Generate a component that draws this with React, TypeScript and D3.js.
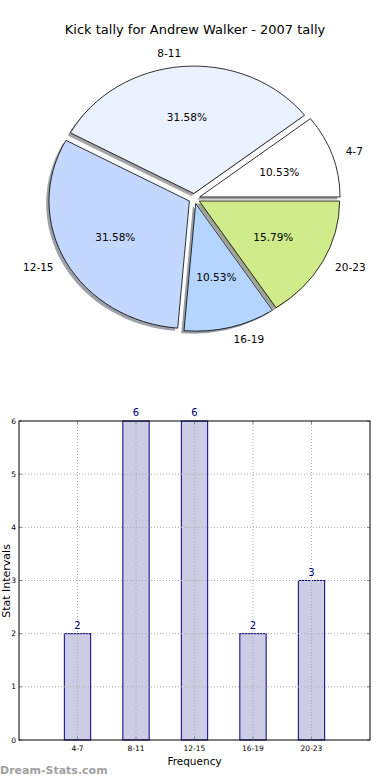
import React from 'react';
import * as d3 from 'd3';

const categories = ['4-7', '8-11', '12-15', '16-19', '20-23'];
const values = [2, 6, 6, 2, 3];
const sliceColors = ['#ffffff', '#eaf1ff', '#c4d8ff', '#b3d5ff', '#cfeb8a'];
const yTicks = [0, 1, 2, 3, 4, 5, 6];
const title = 'Kick tally for Andrew Walker - 2007 tally';

const FONT = '"DejaVu Sans", sans-serif';

export default function App() {
  const W = 390;
  const H = 780;
  // pie geometry (elliptical, as in the reference)
  const cx = 194.3;
  const cy = 198.6;
  const rx = 140.4;
  const ry = 127.5;
  const explode = 0.04;
  const total = d3.sum(values);

  const pie = d3
    .pie<number>()
    .sort(null)
    .startAngle(Math.PI / 2)
    .endAngle(Math.PI / 2 - 2 * Math.PI);
  const arcs = pie(values);
  const arcGen = d3.arc<d3.PieArcDatum<number>>().innerRadius(0).outerRadius(1);

  const slices = arcs.map((a, i) => {
    const mid = (a.startAngle + a.endAngle) / 2;
    const ux = Math.sin(mid);
    const uy = -Math.cos(mid);
    const ox = cx + explode * rx * ux;
    const oy = cy + explode * ry * uy;
    const c = d3.rgb(sliceColors[i]);
    const shadow = d3.rgb(c.r * 0.3, c.g * 0.3, c.b * 0.3).toString();
    return { a, i, ux, uy, ox, oy, shadow };
  });

  // bar chart
  const left = 19;
  const right = 370;
  const top = 421;
  const bottom = 740;
  const xs = d3.scaleLinear().domain([0, 6]).range([left, right]);
  const ys = d3.scaleLinear().domain([0, 6]).range([bottom, top]);
  const barW = 0.45;

  return (
    <svg
      width={W}
      height={H}
      style={{ position: 'absolute', left: 0, top: 0, background: '#fff' }}
      fontFamily={FONT}
    >
      <rect x={0} y={0} width={W} height={H} fill="#fff" />
      <text x={195} y={34} textAnchor="middle" fontSize={13} fill="#000">
        {title}
      </text>

      {/* shadows */}
      {slices.map((s) => (
        <g
          key={'sh' + s.i}
          transform={`translate(${s.ox - 0.02 * rx},${s.oy + 0.02 * ry}) scale(${rx},${ry})`}
        >
          <path d={arcGen(s.a) || ''} fill={s.shadow} fillOpacity={0.5} stroke="none" />
        </g>
      ))}
      {/* slices */}
      {slices.map((s) => (
        <g key={'sl' + s.i} transform={`translate(${s.ox},${s.oy}) scale(${rx},${ry})`}>
          <path
            d={arcGen(s.a) || ''}
            fill={sliceColors[s.i]}
            stroke="#000"
            strokeWidth={0.8}
            vectorEffect="non-scaling-stroke"
            strokeLinejoin="miter"
          />
        </g>
      ))}
      {/* percentage labels */}
      {slices.map((s) => (
        <text
          key={'pc' + s.i}
          x={s.ox + 0.6 * rx * s.ux}
          y={s.oy + 0.6 * ry * s.uy}
          dy="0.35em"
          textAnchor="middle"
          fontSize={10.5}
          fill="#000"
        >
          {((values[s.i] / total) * 100).toFixed(2) + '%'}
        </text>
      ))}
      {/* category labels */}
      {slices.map((s) => (
        <text
          key={'lb' + s.i}
          x={s.ox + 1.1 * rx * s.ux}
          y={s.oy + 1.1 * ry * s.uy}
          dy="0.35em"
          textAnchor={s.ux > 0 ? 'start' : 'end'}
          fontSize={10.5}
          fill="#000"
        >
          {categories[s.i]}
        </text>
      ))}

      {/* bars */}
      {values.map((v, i) => (
        <rect
          key={'bar' + i}
          x={xs(i + 1 - barW / 2)}
          y={ys(v)}
          width={xs(barW) - xs(0)}
          height={ys(0) - ys(v)}
          fill="#ccccE5"
          stroke="#000080"
          strokeWidth={1}
        />
      ))}
      {/* grid */}
      {yTicks.slice(1, -1).map((t) => (
        <line
          key={'gy' + t}
          x1={left}
          x2={right}
          y1={ys(t)}
          y2={ys(t)}
          stroke="#aaaaaa"
          strokeWidth={1}
          strokeDasharray="1,2"
        />
      ))}
      {categories.map((c, i) => (
        <line
          key={'gx' + c}
          x1={xs(i + 1)}
          x2={xs(i + 1)}
          y1={top}
          y2={bottom}
          stroke="#aaaaaa"
          strokeWidth={1}
          strokeDasharray="1,2"
        />
      ))}
      {/* ticks */}
      {yTicks.map((t) => (
        <g key={'ty' + t}>
          <line x1={left} x2={left + 3} y1={ys(t)} y2={ys(t)} stroke="#888" />
          <line x1={right} x2={right - 3} y1={ys(t)} y2={ys(t)} stroke="#888" />
          <text x={16} y={ys(t)} dy="0.35em" textAnchor="end" fontSize={7.5} fill="#000">
            {t}
          </text>
        </g>
      ))}
      {categories.map((c, i) => (
        <g key={'tx' + c}>
          <line x1={xs(i + 1)} x2={xs(i + 1)} y1={bottom} y2={bottom - 3} stroke="#888" />
          <line x1={xs(i + 1)} x2={xs(i + 1)} y1={top} y2={top + 3} stroke="#888" />
          <text x={xs(i + 1)} y={bottom + 8} dy="0.35em" textAnchor="middle" fontSize={7.5} fill="#000">
            {c}
          </text>
        </g>
      ))}
      {/* frame */}
      <rect
        x={left}
        y={top}
        width={right - left}
        height={bottom - top}
        fill="none"
        stroke="#000"
        strokeWidth={1}
      />
      {/* value labels */}
      {values.map((v, i) => (
        <text
          key={'vl' + i}
          x={xs(i + 1)}
          y={ys(v) - 5}
          textAnchor="middle"
          fontSize={10}
          fill="#000080"
        >
          {v}
        </text>
      ))}
      <text x={194.5} y={761} dy="0.35em" textAnchor="middle" fontSize={10.5} fill="#000">
        Frequency
      </text>
      <text
        transform={`translate(6,${581}) rotate(-90)`}
        dy="0.35em"
        textAnchor="middle"
        fontSize={11}
        fill="#000"
      >
        Stat Intervals
      </text>
      <text x={0} y={774} fontSize={11} fontWeight="bold" fill="#a0a0a0">
        Dream-Stats.com
      </text>
    </svg>
  );
}
